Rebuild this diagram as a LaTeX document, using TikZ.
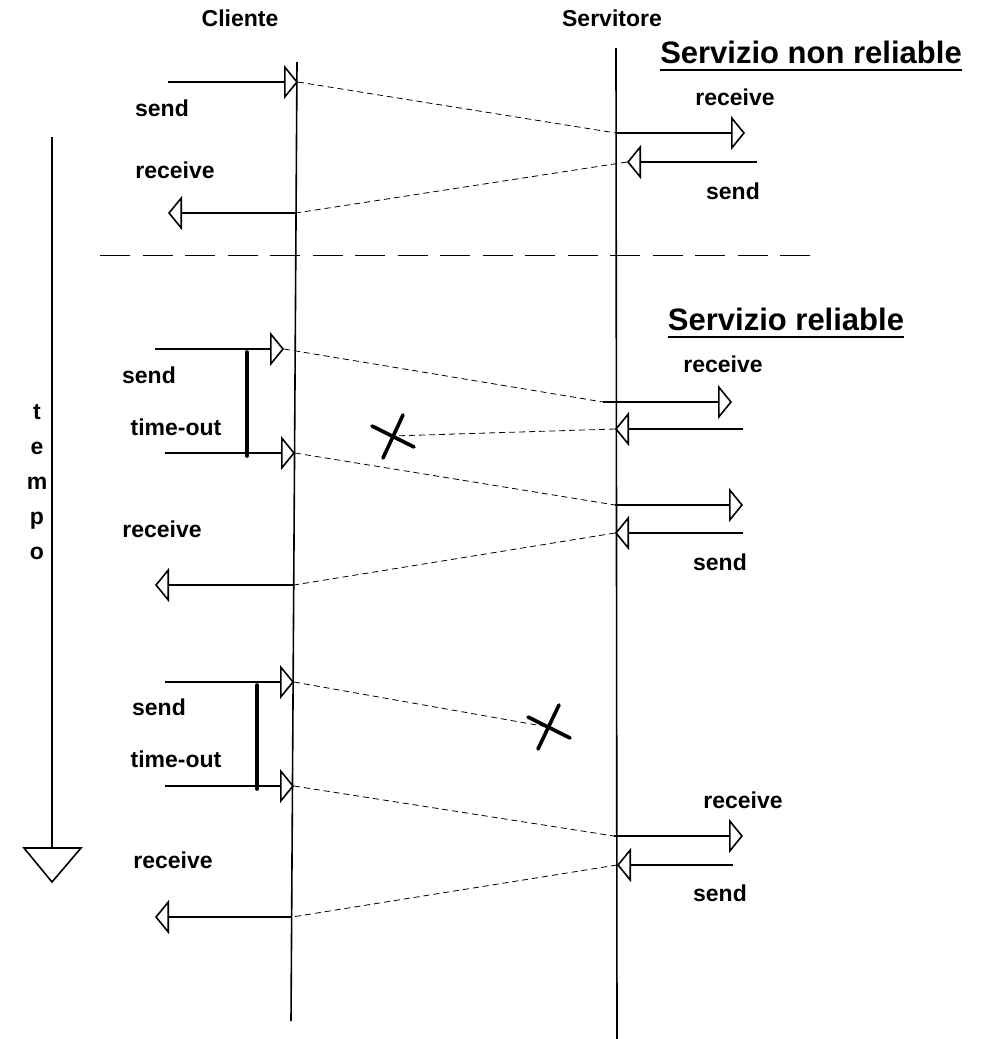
\documentclass[tikz,border=0pt]{standalone}
\usepackage{fontspec}
\setmainfont{Liberation Sans}
\usetikzlibrary{arrows.meta}
\begin{document}
\begin{tikzpicture}[x=1pt,y=-1pt,
  lifeline/.style={line width=1.6pt},
  arr/.style={line width=1.6pt,-{Triangle[open,length=14pt,width=34pt,line join=miter]}},
  msg/.style={line width=0.8pt,dash pattern=on 6pt off 4pt},
  tbar/.style={line width=3.6pt,line cap=round},
  cross/.style={line width=3.6pt,line cap=round},
  sep/.style={line width=1pt,dash pattern=on 30pt off 12.5pt},
  lbl/.style={font=\bfseries\fontsize{23}{27}\selectfont,inner sep=0pt,anchor=base},
  ttl/.style={font=\bfseries\fontsize{31}{36}\selectfont,inner sep=0pt,anchor=base},
  ul/.style={line width=2.2pt}]
\useasboundingbox (0,0) rectangle (982,1039);

% column headings
\node[lbl] (hc) at (240,26) {Cliente};
\node[lbl] (hs) at (612,26) {Servitore};

% lifelines
\coordinate (ctop) at (297,62);
\coordinate (cbot) at (291,1021);
\coordinate (stop) at (616,48);
\coordinate (sbot) at (617,1039);
\draw[lifeline] (ctop) -- (cbot);
\draw[lifeline] (stop) -- (sbot);

% time axis
\coordinate (ttop) at (52,137);
\coordinate (tbase) at (52,848);
\draw[lifeline] (ttop) -- (tbase);
\draw[line width=1.6pt,line join=miter] (24,848) -- (81,848) -- (52,882) -- cycle;
\foreach \ch/\yy in {t/419,e/454,m/489,p/524,o/559}
  \node[lbl] (tempo-\ch) at (37,\yy) {\ch};

% ---------------- unreliable service ----------------
\node[ttl] (t1) at (811,63) {Servizio non reliable};
\draw[ul] ([yshift=-7pt]t1.base west) -- ([yshift=-7pt]t1.base east);

\coordinate (a1) at (168,82);   \coordinate (a1t) at (298,82);
\coordinate (b1) at (616,133);  \coordinate (b1t) at (745,133);
\coordinate (b2) at (757,162);  \coordinate (b2t) at (627,162);
\coordinate (a2) at (296,213);  \coordinate (a2t) at (168,213);
\draw[arr] (a1) -- (a1t);
\draw[msg] (a1t) -- (b1);
\draw[arr] (b1) -- (b1t);
\draw[arr] (b2) -- (b2t);
\draw[msg] (b2t) -- (a2);
\draw[arr] (a2) -- (a2t);
\node[lbl] (l1) at (162,116) {send};
\node[lbl] (l2) at (175,178) {receive};
\node[lbl] (l3) at (735,105) {receive};
\node[lbl] (l4) at (733,199) {send};

% separator
\coordinate (sepl) at (100,255);
\coordinate (sepr) at (818,255);
\draw[sep] (sepl) -- (sepr);

% ---------------- reliable service ----------------
\node[ttl] (t2) at (786,330) {Servizio reliable};
\draw[ul] ([yshift=-7pt]t2.base west) -- ([yshift=-7pt]t2.base east);

% first try, reply lost
\coordinate (c1) at (155,349);  \coordinate (c1t) at (284,349);
\coordinate (d1) at (603,402);  \coordinate (d1t) at (732,402);
\coordinate (d2) at (743,429);  \coordinate (d2t) at (615,429);
\coordinate (x1) at (392,436);
\draw[arr] (c1) -- (c1t);
\draw[msg] (c1t) -- (d1);
\draw[arr] (d1) -- (d1t);
\draw[arr] (d2) -- (d2t);
\draw[msg] (d2t) -- (x1);
\draw[cross] (372,426) -- (414,447);
\draw[cross] (403,415) -- (383,458);
\coordinate (tb1a) at (247,352); \coordinate (tb1b) at (247,456);
\draw[tbar] (tb1a) -- (tb1b);

% retransmission
\coordinate (c2) at (165,453);  \coordinate (c2t) at (295,453);
\coordinate (d3) at (615,505);  \coordinate (d3t) at (743,505);
\coordinate (d4) at (743,533);  \coordinate (d4t) at (615,533);
\coordinate (c3) at (294,585);  \coordinate (c3t) at (155,585);
\draw[arr] (c2) -- (c2t);
\draw[msg] (c2t) -- (d3);
\draw[arr] (d3) -- (d3t);
\draw[arr] (d4) -- (d4t);
\draw[msg] (d4t) -- (c3);
\draw[arr] (c3) -- (c3t);
\node[lbl] (l5) at (149,383) {send};
\node[lbl] (l6) at (176,435) {time-out};
\node[lbl] (l7) at (723,372) {receive};
\node[lbl] (l8) at (162,537) {receive};
\node[lbl] (l9) at (720,570) {send};

% request lost
\coordinate (e1) at (165,682);  \coordinate (e1t) at (294,682);
\coordinate (x2) at (548,727);
\draw[arr] (e1) -- (e1t);
\draw[msg] (e1t) -- (x2);
\draw[cross] (528,717) -- (570,738);
\draw[cross] (559,705) -- (538,749);
\coordinate (tb2a) at (257,685); \coordinate (tb2b) at (257,789);
\draw[tbar] (tb2a) -- (tb2b);

% retransmission
\coordinate (e2) at (165,786);  \coordinate (e2t) at (294,786);
\coordinate (f1) at (614,836);  \coordinate (f1t) at (743,836);
\coordinate (f2) at (733,865);  \coordinate (f2t) at (617,865);
\coordinate (e3) at (292,917);  \coordinate (e3t) at (155,917);
\draw[arr] (e2) -- (e2t);
\draw[msg] (e2t) -- (f1);
\draw[arr] (f1) -- (f1t);
\draw[arr] (f2) -- (f2t);
\draw[msg] (f2t) -- (e3);
\draw[arr] (e3) -- (e3t);
\node[lbl] (l10) at (159,715) {send};
\node[lbl] (l11) at (176,767) {time-out};
\node[lbl] (l12) at (743,808) {receive};
\node[lbl] (l13) at (173,868) {receive};
\node[lbl] (l14) at (720,901) {send};
\end{tikzpicture}
\end{document}
